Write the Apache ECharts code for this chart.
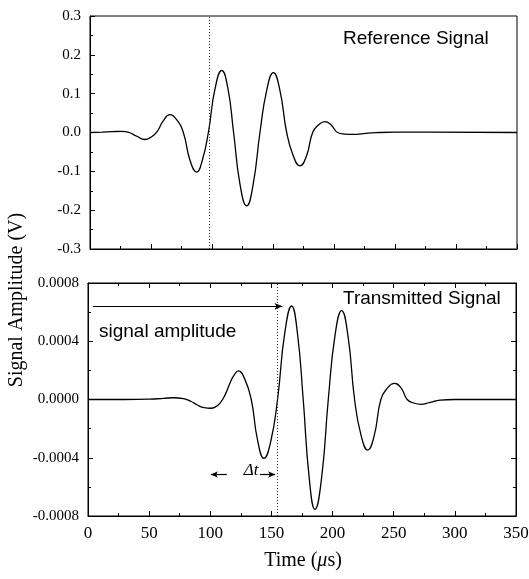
<!DOCTYPE html>
<html><head><meta charset="utf-8">
<script src="https://cdn.jsdelivr.net/npm/echarts/dist/echarts.min.js"></script>
<style>html,body{margin:0;padding:0;background:#fff}#c{width:529px;height:579px}</style>
</head><body><div id="c"></div>
<script>
// Reference signal (top panel), time in µs and amplitude in V
const refTime = [0, 10, 18, 26, 32, 38, 45, 50, 55, 60, 65.6, 71, 76.5, 82, 87.4, 92, 97, 102.5, 108, 113, 117.7, 123, 128.4, 133.7, 139.3, 144.8, 150.3, 155.7, 161.2, 166.6, 172, 177.5, 182.5, 187.5, 192.6, 197.5, 203, 209, 216, 224, 234, 250, 280, 350];
const refAmp  = [0, 0.001, 0.002, 0.003, 0.0, -0.009, -0.018, -0.012, 0.002, 0.03, 0.046, 0.033, 0, -0.072, -0.102, -0.072, 0, 0.113, 0.16, 0.114, 0, -0.134, -0.189, -0.134, 0, 0.108, 0.154, 0.108, 0, -0.06, -0.086, -0.06, 0, 0.02, 0.028, 0.02, 0, -0.004, -0.005, -0.003, -0.0005, 0.001, 0.001, 0];
// Transmitted signal (bottom panel)
const txTime = [0, 30, 50, 62, 70, 78, 84, 89.5, 95, 100.3, 104, 108, 112, 116.5, 120, 122.9, 128.2, 133.5, 138.7, 143.9, 149.4, 155, 160.8, 166.5, 171.2, 176, 180.8, 185.6, 191, 196.5, 202, 207.4, 212.7, 218, 223.4, 228.7, 234, 239.5, 245, 250.4, 256, 261, 266.5, 272, 279, 288, 300, 350];
const txAmp  = [0, 0, 0.000002, 0.000008, 0.000012, 0.000006, -0.000012, -0.000038, -0.000056, -0.00006, -0.000052, -0.000025, 0.00003, 0.00012, 0.000175, 0.000196, 0.00014, 0, -0.00028, -0.000404, -0.00029, 0, 0.00045, 0.000642, 0.00046, 0, -0.00053, -0.000754, -0.00054, 0, 0.00044, 0.00061, 0.00043, 0, -0.00025, -0.000347, -0.00025, 0, 0.00008, 0.000111, 0.00008, 0, -0.000024, -0.000033, -0.000022, -0.000005, 0, 0];
// Axis ranges / ticks
const xTickLabels = ['0', '50', '100', '150', '200', '250', '300', '350'];
const refYRange = [-0.3, 0.3, 0.1];
const txYRange = [-0.0008, 0.0008, 0.0004];
// Annotation values
const refMarkerTime = 98;
const txMarkerTime = 155;
const amplitudeLevel = 0.00064;
const amplitudeArrow = [4, 159];
const dtLevel = -0.000515;
const dtLeftArrow = [113.5, 100.5];
const dtRightArrow = [140.5, 153];

const serif = '"Liberation Serif", "Times New Roman", serif';
const sans = '"Liberation Sans", Arial, sans-serif';
const black = '#000';

function fmt(d) {
  return v => { if (Math.abs(v) < 1e-12) v = 0; return v.toFixed(d); };
}
function xAxisCfg(grid, showLabels, position) {
  return {
    type: 'value', gridIndex: grid, min: 0, max: 350, interval: 50, position: position,
    axisLine: { show: true, onZero: false, lineStyle: { color: black, width: 1 } },
    axisTick: { show: true, inside: true, length: 5, lineStyle: { color: black, width: 1 } },
    minorTick: { show: true, splitNumber: 2, length: 3, lineStyle: { color: black, width: 1 } },
    splitLine: { show: false },
    axisLabel: {
      show: showLabels, color: black, fontFamily: serif, fontSize: 17, margin: 9,
      formatter: v => xTickLabels[Math.round(v / 50)]
    }
  };
}
function yAxisCfg(grid, range, dec, showLabels, position) {
  return {
    type: 'value', gridIndex: grid, min: range[0], max: range[1], interval: range[2], position: position,
    axisLine: { show: true, onZero: false, lineStyle: { color: black, width: 1 } },
    axisTick: { show: true, inside: true, length: 5, lineStyle: { color: black, width: 1 } },
    minorTick: { show: true, splitNumber: 2, length: 3, lineStyle: { color: black, width: 1 } },
    splitLine: { show: false },
    axisLabel: { show: showLabels, color: black, fontFamily: serif, fontSize: 15, margin: 9, formatter: fmt(dec) }
  };
}

const chart = echarts.init(document.getElementById('c'), null, { renderer: 'canvas' });
const lineStyle = { color: black, width: 1.3 };
const arrowLine = { color: black, width: 1.2, type: 'solid' };

chart.setOption({
  animation: false,
  backgroundColor: '#fff',
  grid: [
    { left: 90, top: 16, width: 427, height: 233, show: true, borderColor: black, borderWidth: 1, backgroundColor: 'transparent', containLabel: false, outerBoundsMode: 'none' },
    { left: 88, top: 283, width: 428, height: 233, show: true, borderColor: black, borderWidth: 1, backgroundColor: 'transparent', containLabel: false, outerBoundsMode: 'none' }
  ],
  xAxis: [
    xAxisCfg(0, false, 'bottom'),
    xAxisCfg(1, true, 'bottom'),
    xAxisCfg(1, false, 'top')
  ],
  yAxis: [
    yAxisCfg(0, refYRange, 1, true, 'left'),
    yAxisCfg(1, txYRange, 4, true, 'left'),
    yAxisCfg(1, txYRange, 4, false, 'right')
  ],
  series: [
    {
      type: 'line', xAxisIndex: 0, yAxisIndex: 0, showSymbol: false, smooth: 0.5,
      lineStyle: lineStyle, silent: true,
      data: refTime.map((t, i) => [t, refAmp[i]]),
      markLine: {
        silent: true, symbol: ['none', 'none'], animation: false,
        label: { show: false },
        lineStyle: { color: '#333', width: 1, type: [1, 2] },
        data: [{ xAxis: refMarkerTime }]
      }
    },
    {
      type: 'line', xAxisIndex: 1, yAxisIndex: 1, showSymbol: false, smooth: 0.5,
      lineStyle: lineStyle, silent: true,
      data: txTime.map((t, i) => [t, txAmp[i]]),
      markLine: {
        silent: true, animation: false, symbol: ['none', 'none'],
        label: { show: false },
        lineStyle: { color: '#333', width: 1, type: [1, 2] },
        data: [
          { xAxis: txMarkerTime },
          [ { coord: [amplitudeArrow[0], amplitudeLevel], symbol: 'none', lineStyle: arrowLine },
            { coord: [amplitudeArrow[1], amplitudeLevel], symbol: 'arrow', symbolSize: [5, 8] } ],
          [ { coord: [dtLeftArrow[0], dtLevel], symbol: 'none', lineStyle: arrowLine },
            { coord: [dtLeftArrow[1], dtLevel], symbol: 'arrow', symbolSize: [5, 7] } ],
          [ { coord: [dtRightArrow[0], dtLevel], symbol: 'none', lineStyle: arrowLine },
            { coord: [dtRightArrow[1], dtLevel], symbol: 'arrow', symbolSize: [5, 7] } ]
        ]
      }
    }
  ],
  graphic: [
    { type: 'text', x: 343, y: 39, silent: true, style: { text: 'Reference Signal', fill: black, font: '19px ' + sans, verticalAlign: 'middle', align: 'left' } },
    { type: 'text', x: 343, y: 299, silent: true, style: { text: 'Transmitted Signal', fill: black, font: '19px ' + sans, verticalAlign: 'middle', align: 'left' } },
    { type: 'text', x: 99, y: 332, silent: true, style: { text: 'signal amplitude', fill: black, font: '19px ' + sans, verticalAlign: 'middle', align: 'left' } },
    { type: 'text', x: 251, y: 471, silent: true, style: { text: 'Δt', fill: black, font: 'italic 17px ' + serif, verticalAlign: 'middle', align: 'center' } },
    { type: 'text', x: 17, y: 300, rotation: Math.PI / 2, silent: true, style: { text: 'Signal Amplitude (V)', fill: black, font: '20px ' + serif, verticalAlign: 'middle', align: 'center' } },
    { type: 'text', x: 303, y: 561, silent: true, style: {
        text: '{n|Time (}{i|μ}{n|s)}', fill: black, verticalAlign: 'middle', align: 'center',
        rich: { n: { fontFamily: serif, fontSize: 20, fill: black }, i: { fontFamily: serif, fontSize: 20, fontStyle: 'italic', fill: black } }
      } }
  ]
});
</script>
</body></html>
